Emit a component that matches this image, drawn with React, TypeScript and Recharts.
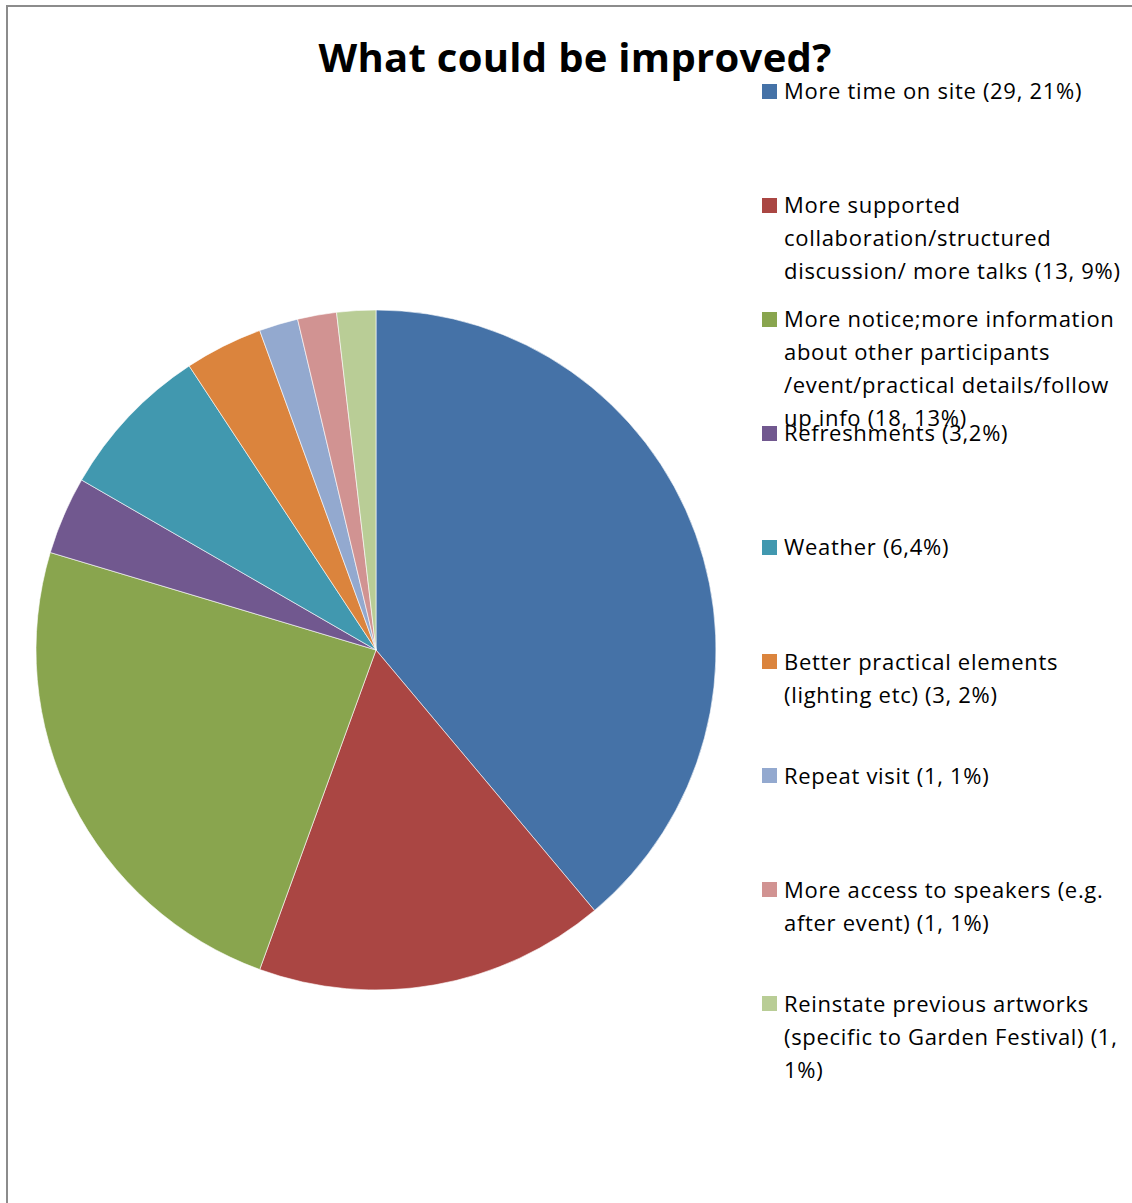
import React from 'react';
import { Cell, Legend, Pie, PieChart } from 'recharts';

const categories = [
  'More time on site (29, 21%)',
  'More supported\ncollaboration/structured\ndiscussion/ more talks (13, 9%)',
  'More notice;more information\nabout other participants\n/event/practical details/follow\nup info (18, 13%)',
  'Refreshments (3,2%)',
  'Weather (6,4%)',
  'Better practical elements\n(lighting etc) (3, 2%)',
  'Repeat visit (1, 1%)',
  'More access to speakers (e.g.\nafter event) (1, 1%)',
  'Reinstate previous artworks\n(specific to Garden Festival) (1,\n1%)',
];

// the slices are sized by the percentage shares
const shares = [21, 9, 13, 2, 4, 2, 1, 1, 1];

const colors = [
  '#4572A7',
  '#AA4643',
  '#89A54E',
  '#71588F',
  '#4198AF',
  '#DB843D',
  '#93A9CF',
  '#D19392',
  '#B9CD96',
];

const data = categories.map((name, i) => ({ name, value: shares[i] }));

const FONT = '"Open Sans", Lato, sans-serif';

const LegendContent = () => (
  <div style={{ position: 'relative', width: 370, height: 1100 }}>
    {categories.map((label, i) => (
      <div
        key={label}
        style={{ position: 'absolute', left: 0, top: i * 114.1, width: 370 }}
      >
        <div
          style={{
            position: 'absolute',
            left: 0,
            top: 9.5,
            width: 15,
            height: 15,
            background: colors[i],
          }}
        />
        <div
          style={{
            position: 'absolute',
            left: 22,
            top: 0,
            whiteSpace: 'pre',
            fontFamily: FONT,
            fontSize: 22,
            letterSpacing: '0.7px',
            lineHeight: '33px',
            color: '#000',
          }}
        >
          {label}
        </div>
      </div>
    ))}
  </div>
);

export default function App() {
  return (
    <div
      style={{
        position: 'absolute',
        left: 0,
        top: 0,
        width: 1132,
        height: 1203,
        background: '#fff',
        overflow: 'hidden',
      }}
    >
      <div
        style={{
          position: 'absolute',
          left: 6,
          top: 5,
          width: 1200,
          height: 1300,
          borderLeft: '2px solid #8c8c8c',
          borderTop: '2px solid #8c8c8c',
        }}
      />
      <PieChart width={1132} height={1203} margin={{ top: 0, right: 0, bottom: 0, left: 0 }}>
        <Pie
          data={data}
          dataKey="value"
          nameKey="name"
          cx={376}
          cy={650}
          outerRadius={340}
          startAngle={90}
          endAngle={-270}
          stroke="#ffffff"
          strokeWidth={0.6}
          isAnimationActive={false}
        >
          {data.map((d, i) => (
            <Cell key={d.name} fill={colors[i]} />
          ))}
        </Pie>
        <Legend
          layout="vertical"
          align="right"
          verticalAlign="top"
          width={370}
          content={<LegendContent />}
          wrapperStyle={{ left: 762, top: 74, right: 'auto', bottom: 'auto' }}
        />
      </PieChart>
      <div
        style={{
          position: 'absolute',
          left: 275,
          top: 37,
          width: 600,
          textAlign: 'center',
          fontFamily: FONT,
          fontWeight: 700,
          fontSize: 40,
          letterSpacing: '0.3px',
          lineHeight: '40px',
          color: '#000',
        }}
      >
        What could be improved?
      </div>
    </div>
  );
}
